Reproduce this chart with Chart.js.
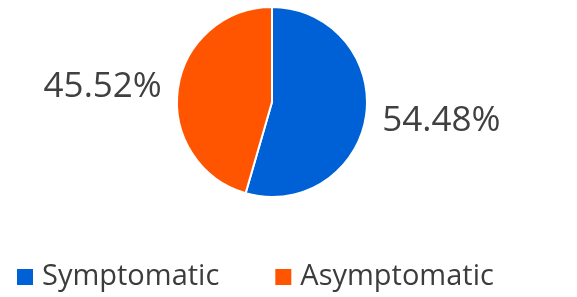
<!DOCTYPE html>
<html><head><meta charset="utf-8">
<script src="https://cdn.jsdelivr.net/npm/chart.js@4/dist/chart.umd.min.js"></script>
<style>html,body{margin:0;padding:0;background:#fff}#wrap{width:577px;height:297px}</style>
</head><body><div id="wrap"><canvas id="c" width="577" height="297"></canvas></div>
<script>
const categories = ["Symptomatic", "Asymptomatic"];
const values = [54.48, 45.52];
const valueLabels = ["54.48%", "45.52%"];
const colors = ["#0060d6", "#ff5500"];

const labelPlugin = {
  id: 'outLabels',
  afterDatasetsDraw(chart) {
    const ctx = chart.ctx;
    const meta = chart.getDatasetMeta(0);
    ctx.save();
    ctx.font = '35px "Open Sans", "Noto Sans", sans-serif';
    ctx.fillStyle = '#404040';
    ctx.textAlign = 'center';
    ctx.textBaseline = 'middle';
    meta.data.forEach((arc, i) => {
      const p = arc.getProps(['x','y','startAngle','endAngle','outerRadius'], true);
      const mid = (p.startAngle + p.endAngle) / 2;
      const d = p.outerRadius + 76;
      ctx.fillText(valueLabels[i], p.x + Math.cos(mid) * d, p.y + Math.sin(mid) * d * 0.7 + 2);
    });
    ctx.restore();
  }
};

const legendPlugin = {
  id: 'bottomLegend',
  afterDraw(chart) {
    const ctx = chart.ctx;
    ctx.save();
    ctx.font = '29px "Open Sans", "Noto Sans", sans-serif';
    ctx.textBaseline = 'alphabetic';
    let x = 17;
    const yBox = 269, box = 16, baseline = 285;
    categories.forEach((c, i) => {
      ctx.fillStyle = colors[i];
      ctx.fillRect(x, yBox, box, box);
      ctx.fillStyle = '#3c3c3c';
      ctx.fillText(c, x + box + 9, baseline);
      x += box + 9 + ctx.measureText(c).width + 56;
    });
    ctx.restore();
  }
};

new Chart(document.getElementById('c'), {
  type: 'pie',
  data: {
    labels: categories,
    datasets: [{
      data: values,
      backgroundColor: colors,
      borderColor: '#ffffff',
      borderWidth: 2
    }]
  },
  options: {
    responsive: false,
    animation: false,
    layout: { padding: { top: 6, bottom: 99, left: 176, right: 209 } },
    plugins: { legend: { display: false }, tooltip: { enabled: false } }
  },
  plugins: [labelPlugin, legendPlugin]
});
</script></body></html>
